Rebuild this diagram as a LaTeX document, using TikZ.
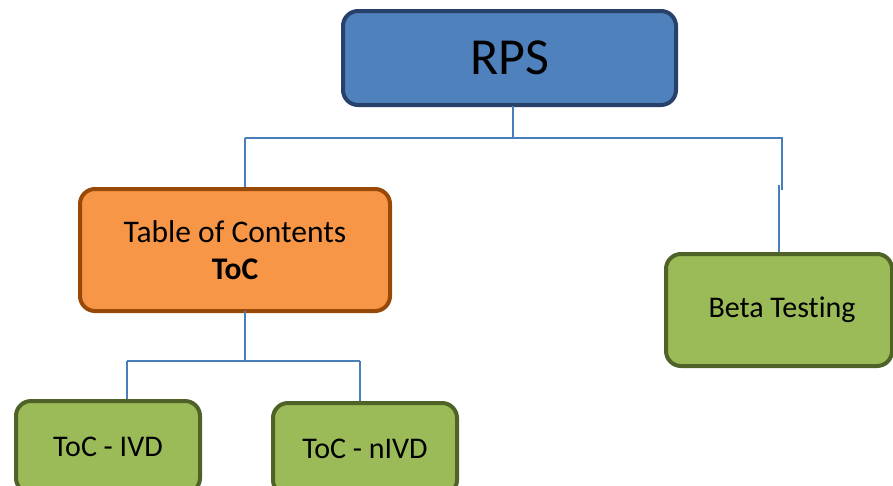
\documentclass[tikz,border=0pt]{standalone}
\usepackage{fontspec}
\setmainfont[Ligatures={NoCommon}]{Carlito}
\definecolor{rpsfill}{HTML}{4F81BD}
\definecolor{rpsline}{HTML}{27416A}
\definecolor{tocfill}{HTML}{F79646}
\definecolor{tocline}{HTML}{984807}
\definecolor{grfill}{HTML}{9BBB59}
\definecolor{grline}{HTML}{4F6228}
\definecolor{conn}{HTML}{4A7EBB}
\tikzset{
  box/.style={rectangle, rounded corners=15pt, line width=4pt, inner sep=0pt, align=center,
    font=\fontsize{30}{37}\selectfont},
  bluebox/.style={box, draw=rpsline, fill=rpsfill, font=\fontsize{52}{60}\selectfont},
  orangebox/.style={box, draw=tocline, fill=tocfill, font=\fontsize{31.5}{37}\selectfont},
  greenbox/.style={box, draw=grline, fill=grfill},
  link/.style={draw=conn, line width=2pt}
}
\begin{document}
\begin{tikzpicture}[x=1pt,y=-1pt]
\useasboundingbox (0,0) rectangle (893,485);
\clip (0,0) rectangle (893,485);
% connectors
\coordinate (r1) at (513,106);
\coordinate (h1) at (513,138);
\coordinate (hl) at (245,138);
\coordinate (hr) at (782,138);
\coordinate (hre) at (782,190);
\coordinate (bs) at (779,185);
\coordinate (t1) at (245,311);
\coordinate (t2) at (245,361);
\coordinate (tl) at (127,361);
\coordinate (tr) at (360,361);
% nodes
\node[bluebox, minimum width=333pt, minimum height=94pt] (rps) at (509.5,58) {RPS};
\node[orangebox, minimum width=310pt, minimum height=122pt] (toc) at (235,250) {Table of Contents\\\textbf{ToC}};
\node[greenbox, minimum width=226pt, minimum height=112pt] (beta) at (779,310) {\hspace{6pt}Beta Testing};
\node[greenbox, minimum width=184pt, minimum height=92pt] (ivd) at (108,447) {ToC - IVD};
\node[greenbox, minimum width=184pt, minimum height=92pt] (nivd) at (365,449) {ToC - nIVD};
% lines
\draw[link] (r1) -- (h1);
\draw[link] (hl) -- (hr) -- (hre);
\draw[link] (hl) -- (hl |- toc.north);
\draw[link] (bs) -- (bs |- beta.north);
\draw[link] (t1) -- (t2);
\draw[link] (tl) -- (tr);
\draw[link] (tl) -- (tl |- ivd.north);
\draw[link] (tr) -- (tr |- nivd.north);
\end{tikzpicture}
\end{document}
